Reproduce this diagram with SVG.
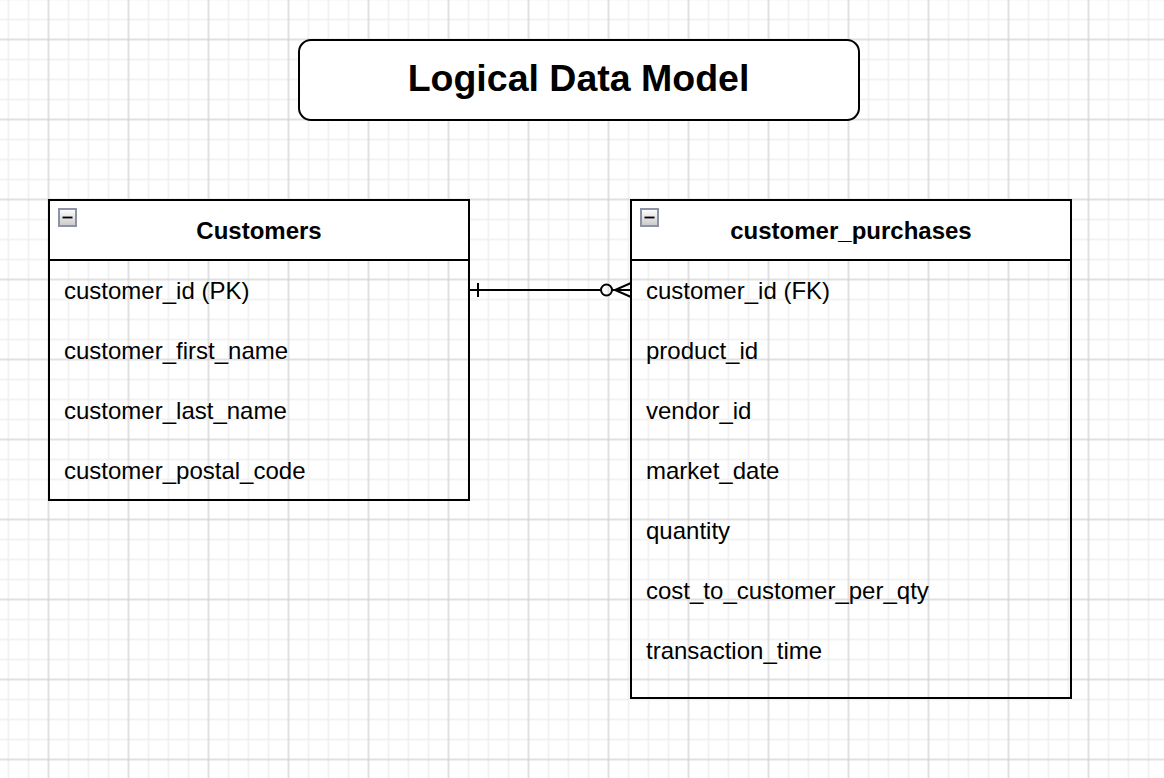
<svg xmlns="http://www.w3.org/2000/svg" width="1164" height="778" viewBox="0 0 1164 778">
  <defs>
    <pattern id="grid" patternUnits="userSpaceOnUse" x="38.5" y="29.5" width="80" height="80">
      <path d="M30 0V80M50 0V80M70 0V80M10 0V80M0 30H80M0 50H80M0 70H80M0 10H80" stroke="#f2f2f2" stroke-width="2" fill="none"/>
      <path d="M10 0V80M0 10H80" stroke="#cfcfcf" stroke-width="1" fill="none"/>
    </pattern>
    <linearGradient id="btn" x1="0" y1="0" x2="0" y2="1">
      <stop offset="0" stop-color="#ffffff"/>
      <stop offset="1" stop-color="#c9c9c9"/>
    </linearGradient>
    <g id="collapse">
      <rect x="0" y="0" width="17" height="17" fill="url(#btn)" stroke="#8c93a6" stroke-width="2"/>
      <rect x="3.5" y="7.6" width="10" height="1.8" fill="#000"/>
    </g>
  </defs>
  <style>
    .box { fill: none; stroke: #000; stroke-width: 2; }
    .hdr { fill: #fff; stroke: #000; stroke-width: 2; }
    .row { font-family: "Liberation Sans", Arial, Helvetica, sans-serif; font-size: 24px; fill: #000; }
    .head { font-family: "Liberation Sans", Arial, Helvetica, sans-serif; font-size: 24px; font-weight: bold; fill: #000; text-anchor: middle; }
    .title { font-family: "Liberation Sans", Arial, Helvetica, sans-serif; font-size: 37.5px; font-weight: bold; fill: #000; text-anchor: middle; }
    .edge { fill: none; stroke: #000; stroke-width: 2; }
  </style>
  <rect width="1164" height="778" fill="#fff"/>
  <rect width="1164" height="778" fill="url(#grid)"/>

  <g id="title">
    <rect x="299" y="40" width="560" height="80" rx="12" ry="12" fill="#fff" stroke="#000" stroke-width="2"/>
    <text class="title" x="578.5" y="90.5">Logical Data Model</text>
  </g>

  <g id="customers">
    <rect class="hdr" x="49" y="200" width="420" height="60"/>
    <rect class="box" x="49" y="200" width="420" height="300"/>
    <use href="#collapse" x="59" y="209"/>
    <text class="head" x="259" y="239">Customers</text>
    <text class="row" x="64" y="298.5">customer_id (PK)</text>
    <text class="row" x="64" y="358.5">customer_first_name</text>
    <text class="row" x="64" y="418.5">customer_last_name</text>
    <text class="row" x="64" y="478.5">customer_postal_code</text>
  </g>

  <g id="customer_purchases">
    <rect class="hdr" x="631" y="200" width="440" height="60"/>
    <rect class="box" x="631" y="200" width="440" height="498"/>
    <use href="#collapse" x="641" y="209"/>
    <text class="head" x="851" y="239">customer_purchases</text>
    <text class="row" x="646" y="298.5">customer_id (FK)</text>
    <text class="row" x="646" y="358.5">product_id</text>
    <text class="row" x="646" y="418.5">vendor_id</text>
    <text class="row" x="646" y="478.5">market_date</text>
    <text class="row" x="646" y="538.5">quantity</text>
    <text class="row" x="646" y="598.5">cost_to_customer_per_qty</text>
    <text class="row" x="646" y="658.5">transaction_time</text>
  </g>

  <g id="connectors">
    <path class="edge" d="M469 290H600.5"/>
    <path class="edge" d="M478 283V297"/>
    <circle class="edge" cx="606.5" cy="290" r="5.5"/>
    <path class="edge" d="M612 290H631M631 283L615 290L631 297"/>
  </g>
</svg>
